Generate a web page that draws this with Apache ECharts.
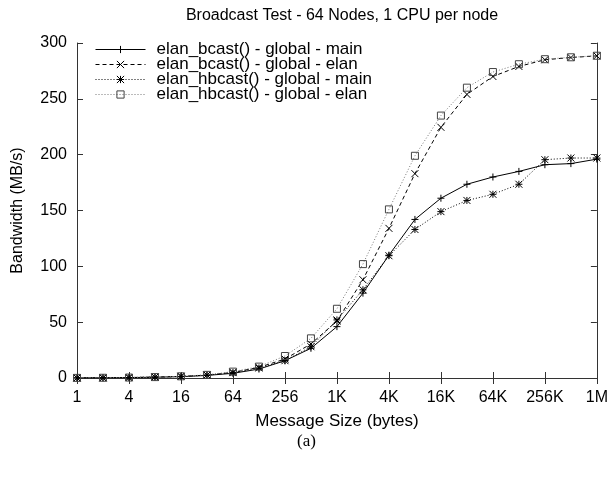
<!DOCTYPE html>
<html>
<head>
<meta charset="utf-8">
<script src="https://cdn.jsdelivr.net/npm/echarts@6/dist/echarts.min.js"></script>
<style>
  html, body { margin: 0; padding: 0; background: #fff; }
  #chart { width: 611px; height: 479px; }
</style>
</head>
<body>
<div id="chart"></div>
<script>
// message sizes in bytes (2^0 .. 2^20)
var sizes = [1, 2, 4, 8, 16, 32, 64, 128, 256, 512, 1024, 2048, 4096, 8192,
  16384, 32768, 65536, 131072, 262144, 524288, 1048576];

// bandwidth in MB/s
var bcastMain = [0.1, 0.2, 0.4, 0.7, 1.2, 2.3, 4.2, 8, 15.5, 26.6, 46, 76, 110, 142,
  161, 173.5, 180, 185, 191, 192, 196];
var bcastElan = [0.1, 0.2, 0.4, 0.8, 1.4, 2.6, 5, 9.5, 17, 30.5, 51, 88, 134, 183,
  224.5, 254, 270, 279, 285, 287, 288.5];
var hbcastMain = [0.1, 0.2, 0.4, 0.8, 1.4, 2.6, 4.8, 9, 15.5, 28, 52, 79, 109.5, 133,
  149, 159, 164.5, 173.5, 195.5, 197, 197];
var hbcastElan = [0.1, 0.2, 0.4, 0.8, 1.5, 2.8, 5.7, 10.2, 19.7, 35.5, 62, 102, 151, 199,
  235, 260, 274, 281, 285.5, 287.2, 288.6];

var seriesNames = [
  "elan_bcast() - global - main",
  "elan_bcast() - global - elan",
  "elan_hbcast() - global - main",
  "elan_hbcast() - global - elan"
];

var PLUS = "path://M5,0 L5,10 M0,5 L10,5";
var CROSS = "path://M0,0 L10,10 M0,10 L10,0";
var STAR = "path://M0,0 L10,10 M0,10 L10,0 M5,0 L5,10 M0,5 L10,5";
var SQUARE = "path://M0,0 L10,0 L10,10 L0,10 Z";

// 1 -> "1", 1024 -> "1K", 1048576 -> "1M"
function fmtSize(v) {
  v = Number(v);
  if (v >= 1048576) return (v / 1048576) + "M";
  if (v >= 1024) return (v / 1024) + "K";
  return String(v);
}

function makeSeries(name, vals, symbol, size, dash, color, markColor) {
  return {
    name: name,
    type: "line",
    data: vals,
    symbol: symbol,
    symbolSize: size,
    showAllSymbol: true,
    lineStyle: { color: color, width: 1, type: dash },
    itemStyle: { color: "none", borderColor: markColor || color, borderWidth: 1 },
    emphasis: { disabled: true },
    animation: false
  };
}

var chart = echarts.init(document.getElementById("chart"), null, { renderer: "canvas" });

var axisCommonX = {
  type: "category",
  data: sizes,
  boundaryGap: false,
  axisLine: { lineStyle: { color: "#333", width: 1 } },
  axisTick: { inside: true, length: 6, interval: 1, lineStyle: { color: "#333" } },
  splitLine: { show: false }
};

var axisCommonY = {
  type: "value",
  min: 0,
  max: 300,
  interval: 50,
  axisLine: { show: true, lineStyle: { color: "#333", width: 1 } },
  axisTick: { show: true, inside: true, length: 6, lineStyle: { color: "#333" } },
  splitLine: { show: false }
};

chart.setOption({
  backgroundColor: "#fff",
  textStyle: { fontFamily: "Liberation Sans, Arial, sans-serif" },
  title: {
    text: "Broadcast Test - 64 Nodes, 1 CPU per node",
    left: 337,
    textAlign: "center",
    top: 3,
    textStyle: { fontSize: 16, fontWeight: "normal", color: "#000", fontFamily: "Liberation Sans" }
  },
  grid: { left: 77, right: 13, top: 43, bottom: 101, containLabel: false },
  legend: {
    orient: "vertical",
    left: 95,
    top: 41,
    padding: 0,
    itemWidth: 50,
    itemHeight: 9,
    itemGap: -2,
    data: seriesNames,
    lineStyle: { width: 1 },
    itemStyle: { borderWidth: 1 },
    textStyle: { fontSize: 17, lineHeight: 15, padding: [0, 0, 0, 6], color: "#000", fontFamily: "Liberation Sans" }
  },
  xAxis: [
    Object.assign({}, axisCommonX, {
      position: "bottom",
      name: "Message Size (bytes)",
      nameLocation: "middle",
      nameGap: 35,
      nameTextStyle: { fontSize: 17, color: "#000" },
      axisLabel: { fontSize: 16, color: "#000", margin: 12, interval: 1, formatter: fmtSize }
    }),
    Object.assign({}, axisCommonX, {
      position: "top",
      axisLabel: { show: false }
    })
  ],
  yAxis: [
    Object.assign({}, axisCommonY, {
      position: "left",
      name: "Bandwidth (MB/s)",
      nameLocation: "middle",
      nameGap: 51,
      nameTextStyle: { fontSize: 16, color: "#000" },
      axisLabel: { fontSize: 16, color: "#000", margin: 10 }
    }),
    Object.assign({}, axisCommonY, {
      position: "right",
      axisLabel: { show: false }
    })
  ],
  graphic: [{
    type: "text",
    left: 297,
    top: 433,
    style: { text: "(a)", fontSize: 17, fill: "#000", fontFamily: "Liberation Serif" }
  }],
  series: [
    makeSeries(seriesNames[0], bcastMain, PLUS, 7, "solid", "#000"),
    makeSeries(seriesNames[1], bcastElan, CROSS, 7, [4, 3], "#000"),
    makeSeries(seriesNames[2], hbcastMain, STAR, 7, [1, 2], "#000"),
    makeSeries(seriesNames[3], hbcastElan, SQUARE, 7, [1, 2], "#777", "#444")
  ]
});
</script>
</body>
</html>
